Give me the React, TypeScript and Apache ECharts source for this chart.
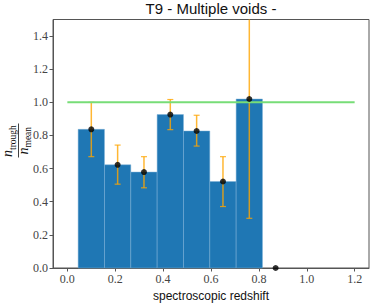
import React, { useEffect, useRef } from "react";
import * as echarts from "echarts";

// Histogram bins (edges) and heights
const binLeft = [0.045, 0.155, 0.265, 0.375, 0.485, 0.595, 0.705];
const binRight = [0.155, 0.265, 0.375, 0.485, 0.595, 0.705, 0.815];
const binHeight = [0.837, 0.623, 0.579, 0.926, 0.827, 0.522, 1.02];

// Points with error bars
const pointX = [0.1, 0.21, 0.32, 0.43, 0.54, 0.65, 0.76, 0.87];
const pointY = [0.837, 0.623, 0.579, 0.926, 0.827, 0.522, 1.02, 0.0];
const errLow = [0.672, 0.506, 0.484, 0.835, 0.736, 0.371, 0.3, 0.0];
const errHigh = [1.0, 0.742, 0.672, 1.017, 0.922, 0.672, 1.8, 0.0];

// Reference line
const refX = [0.0, 1.2];
const refY = [1.0, 1.0];

const xTicks = [0.0, 0.2, 0.4, 0.6, 0.8, 1.0, 1.2];
const yTicks = [0.0, 0.2, 0.4, 0.6, 0.8, 1.0, 1.2, 1.4];

const SERIF = "'Liberation Serif', 'DejaVu Serif', serif";
const SANS = "'Liberation Sans', Arial, sans-serif";

export default function App() {
  const ref = useRef<HTMLDivElement>(null);
  useEffect(() => {
    if (!ref.current) return;
    const chart = echarts.init(ref.current, undefined, { renderer: "svg" });
    const bars = binLeft.map((l, i) => [l, binRight[i], binHeight[i]]);
    const errs = pointX.map((x, i) => [x, errLow[i], errHigh[i]]);
    const pts = pointX.map((x, i) => [x, pointY[i]]);
    const line = refX.map((x, i) => [x, refY[i]]);
    const axisColor = "#555";
    chart.setOption({
      animation: false,
      grid: {
        left: 53,
        right: 5,
        top: 19.5,
        bottom: 35,
        show: true,
        borderColor: axisColor,
        borderWidth: 1,
        backgroundColor: "transparent",
      },
      title: {
        text: "T9 - Multiple voids -",
        left: 211,
        textAlign: "center",
        top: 1,
        padding: 0,
        textStyle: { fontFamily: SANS, fontSize: 15, fontWeight: "normal", color: "#111" },
      },
      xAxis: {
        type: "value",
        min: -0.06,
        max: 1.26,
        name: "spectroscopic redshift",
        nameLocation: "middle",
        nameGap: 22,
        nameTextStyle: { fontFamily: SANS, fontSize: 12, color: "#111" },
        splitLine: { show: false },
        axisLine: { show: true, onZero: false, lineStyle: { color: axisColor, width: 1 } },
        axisTick: {
          show: true,
          length: 3.5,
          lineStyle: { color: axisColor },
          customValues: xTicks,
        },
        axisLabel: {
          fontFamily: SERIF,
          fontSize: 12,
          color: "#444",
          margin: 5,
          customValues: xTicks,
          formatter: (v: number) => v.toFixed(1),
        },
      },
      yAxis: {
        type: "value",
        min: 0,
        max: 1.5,
        splitLine: { show: false },
        axisLine: { show: true, onZero: false, lineStyle: { color: axisColor, width: 1 } },
        axisTick: {
          show: true,
          length: 3.5,
          lineStyle: { color: axisColor },
          customValues: yTicks,
        },
        axisLabel: {
          fontFamily: SERIF,
          fontSize: 12,
          color: "#444",
          margin: 5,
          customValues: yTicks,
          formatter: (v: number) => v.toFixed(1),
        },
      },
      graphic: [
        {
          type: "group",
          x: 18.5,
          y: 140.5,
          rotation: Math.PI / 2,
          children: [
            { type: "line", shape: { x1: -17, y1: 0, x2: 17, y2: 0 }, style: { stroke: "#111", lineWidth: 0.8 } },
            { type: "text", x: -16.5, y: -4, style: { text: "n", fontFamily: SERIF, fontStyle: "italic", fontSize: 14, fill: "#111", verticalAlign: "bottom" } },
            { type: "text", x: -9.5, y: -0.5, style: { text: "trough", fontFamily: SERIF, fontSize: 9.5, fill: "#111", verticalAlign: "bottom" } },
            { type: "text", x: -14, y: 11.5, style: { text: "n", fontFamily: SERIF, fontStyle: "italic", fontSize: 14, fill: "#111", verticalAlign: "bottom" } },
            { type: "text", x: -7, y: 14, style: { text: "mean", fontFamily: SERIF, fontSize: 9.5, fill: "#111", verticalAlign: "bottom" } },
          ],
        },
      ],
      series: [
        {
          type: "custom",
          z: 1,
          data: bars,
          encode: { x: [0, 1], y: 2 },
          renderItem: (params: any, api: any) => {
            const p0 = api.coord([api.value(0), api.value(2)]);
            const p1 = api.coord([api.value(1), 0]);
            return {
              type: "rect",
              shape: { x: p0[0], y: p0[1], width: p1[0] - p0[0], height: p1[1] - p0[1] },
              style: { fill: "#1f77b4", stroke: "rgba(125,177,216,0.6)", lineWidth: 0.8 },
            };
          },
        },
        {
          type: "line",
          z: 3,
          data: line,
          symbol: "none",
          lineStyle: { color: "#77dd77", width: 2 },
        },
        {
          type: "custom",
          z: 2,
          data: errs,
          encode: { x: 0, y: [1, 2] },
          renderItem: (params: any, api: any) => {
            const x = api.value(0);
            const lo = api.value(1);
            const hi = api.value(2);
            if (hi - lo <= 0) return null;
            const cs = params.coordSys;
            const top = cs.y;
            const pLo = api.coord([x, lo]);
            const pHi = api.coord([x, hi]);
            const yHi = Math.max(pHi[1], top);
            const color = "rgba(255,165,0,0.8)";
            const children: any[] = [
              { type: "line", shape: { x1: pLo[0], y1: pLo[1], x2: pLo[0], y2: yHi }, style: { stroke: color, lineWidth: 1.5 } },
              { type: "line", shape: { x1: pLo[0] - 3, y1: pLo[1], x2: pLo[0] + 3, y2: pLo[1] }, style: { stroke: color, lineWidth: 1.2 } },
            ];
            if (pHi[1] >= top) {
              children.push({ type: "line", shape: { x1: pHi[0] - 3, y1: pHi[1], x2: pHi[0] + 3, y2: pHi[1] }, style: { stroke: color, lineWidth: 1.2 } });
            }
            return { type: "group", children };
          },
        },
        {
          type: "scatter",
          z: 4,
          data: pts,
          symbol: "circle",
          symbolSize: 6,
          itemStyle: { color: "#000" },
          clip: false,
        },
      ],
    });
    return () => chart.dispose();
  }, []);
  return <div ref={ref} style={{ width: 374, height: 307, position: "absolute", left: 0, top: 0 }} />;
}
